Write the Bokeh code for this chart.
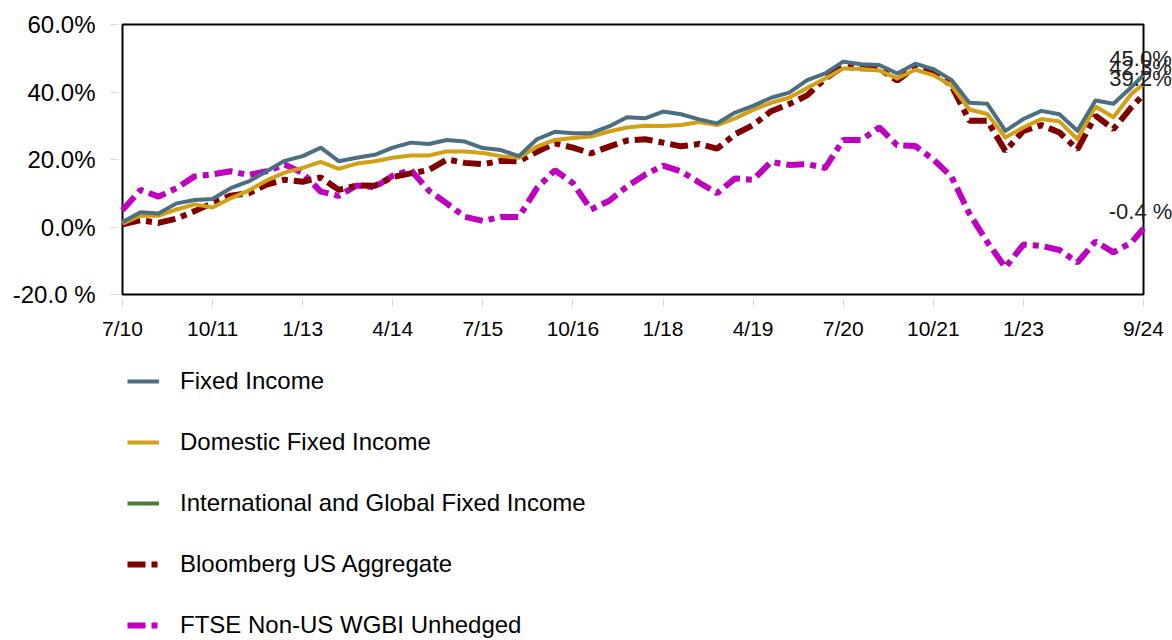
from bokeh.plotting import figure
from bokeh.layouts import column
from bokeh.models import Legend, LegendItem, Label, FixedTicker, ColumnDataSource, Range1d
from bokeh.embed import file_html
from bokeh.resources import INLINE

# months since 7/2010 (quarterly readings + final 9/2024)
months = list(range(0, 169, 3)) + [170]

fixed_income = [1.5, 4.4, 4.0, 7.0, 8.0, 8.3, 11.5, 13.5, 16.5, 19.6, 21.0, 23.5, 19.5, 20.5, 21.4,
                23.5, 25.0, 24.6, 25.8, 25.3, 23.4, 22.8, 21.0, 26.0, 28.2, 27.8, 27.8, 29.8, 32.5,
                32.2, 34.2, 33.4, 31.9, 30.7, 33.9, 35.9, 38.3, 39.8, 43.5, 45.5, 49.0, 48.2, 48.0,
                45.5, 48.4, 46.8, 43.6, 36.8, 36.5, 28.5, 32.0, 34.4, 33.4, 28.5, 37.5, 36.5, 41.5, 45.0]
domestic_fi = [1.0, 3.4, 3.3, 5.2, 6.7, 5.8, 8.5, 10.8, 13.8, 16.1, 17.5, 19.3, 17.2, 18.8, 19.5,
               20.5, 21.2, 21.2, 22.4, 22.4, 21.9, 21.0, 20.5, 23.8, 25.8, 26.4, 26.8, 28.3, 29.5,
               30.0, 29.9, 30.2, 31.1, 30.2, 32.2, 34.7, 36.8, 38.3, 41.2, 44.0, 47.0, 46.8, 46.4,
               44.0, 46.6, 45.0, 42.0, 34.8, 33.5, 26.5, 29.5, 32.0, 31.3, 26.0, 35.7, 32.5, 39.5, 42.3]
# no values are drawn in the chart for this series
intl_global_fi = [float("nan")] * len(months)
bbg_us_agg = [0.8, 2.0, 1.2, 2.5, 4.7, 7.1, 9.3, 10.0, 12.6, 14.0, 13.4, 14.7, 11.0, 12.3, 12.2,
              14.8, 15.9, 16.9, 20.0, 19.0, 18.6, 19.6, 19.5, 22.3, 24.8, 23.5, 21.8, 23.8, 25.6,
              26.0, 25.0, 23.9, 24.6, 23.2, 27.5, 30.2, 34.3, 36.4, 39.0, 44.0, 47.5, 47.0, 46.9,
              43.4, 47.4, 46.0, 42.0, 31.5, 31.5, 22.5, 28.5, 30.2, 28.0, 23.0, 33.0, 29.0, 35.5, 39.2]
ftse_wgbi = [5.0, 11.0, 9.0, 11.5, 15.0, 15.6, 16.5, 15.4, 16.5, 18.5, 16.0, 10.5, 9.2, 12.3, 11.8,
             15.2, 16.9, 10.8, 7.0, 3.0, 1.8, 3.0, 3.0, 11.5, 16.8, 13.0, 5.2, 7.7, 12.0,
             15.5, 18.2, 16.5, 13.2, 10.0, 14.4, 14.0, 19.3, 18.4, 18.6, 17.5, 25.8, 25.8, 29.5,
             24.2, 24.0, 20.0, 15.0, 4.0, -4.5, -12.0, -5.2, -5.6, -6.8, -10.5, -4.3, -7.5, -4.6, -0.4]

series_names = ["Fixed Income", "Domestic Fixed Income", "International and Global Fixed Income",
                "Bloomberg US Aggregate", "FTSE Non-US WGBI Unhedged"]

x_tick_months = [0, 15, 30, 45, 60, 75, 90, 105, 120, 135, 150, 170]
x_tick_labels = ["7/10", "10/11", "1/13", "4/14", "7/15", "10/16", "1/18", "4/19", "7/20", "10/21", "1/23", "9/24"]
y_ticks = [-20, 0, 20, 40, 60]
y_tick_labels = ["-20.0 %", "0.0%", "20.0%", "40.0%", "60.0%"]

FONT = "Liberation Sans"
C_FI = "#4B6E83"
C_DOM = "#D2A014"
C_INT = "#4A7F3A"
C_AGG = "#800000"
C_WGBI = "#C000C0"

# layout geometry (pixels)
BOX_W, BOX_H, PAD = 1021, 270, 4
RIGHT_ROOM = 29
TOP, LEFT, AXIS_ROOM = 20, 118, 44
CHART_H = TOP + BOX_H + 2 * PAD + AXIS_ROOM
LEGEND_H = 640 - CHART_H
x0, x1 = x_tick_months[0], x_tick_months[-1]
y0, y1 = y_ticks[0], y_ticks[-1]
xpp = (x1 - x0) / BOX_W
ypp = (y1 - y0) / BOX_H

p = figure(frame_width=BOX_W + PAD + RIGHT_ROOM, frame_height=BOX_H + 2 * PAD,
           output_backend="svg", toolbar_location=None,
           x_range=Range1d(x0 - PAD * xpp, x1 + RIGHT_ROOM * xpp),
           y_range=Range1d(y0 - PAD * ypp, y1 + PAD * ypp),
           min_border_left=LEFT, min_border_right=0, min_border_top=TOP,
           min_border_bottom=AXIS_ROOM)
p.xgrid.visible = False
p.ygrid.visible = False
p.outline_line_color = None

for ax in (p.xaxis[0], p.yaxis[0]):
    ax.axis_line_color = None
    ax.major_tick_line_color = "#d9d9d9"
    ax.major_tick_in = 0
    ax.minor_tick_line_color = None
    ax.major_label_text_font = FONT
    ax.major_label_text_color = "#000000"

p.xaxis.ticker = FixedTicker(ticks=x_tick_months)
p.xaxis.major_label_overrides = {m: l for m, l in zip(x_tick_months, x_tick_labels)}
p.xaxis.major_tick_out = 8
p.xaxis.major_label_standoff = 10
p.xaxis.major_label_text_font_size = "21px"

p.yaxis.ticker = FixedTicker(ticks=y_ticks)
p.yaxis.major_label_overrides = {t: l for t, l in zip(y_ticks, y_tick_labels)}
p.yaxis.major_tick_out = 8
p.yaxis.major_label_standoff = 15
p.yaxis.major_label_text_font_size = "24px"

# black frame around the data area
p.quad(left=[x0], right=[x1], bottom=[y0], top=[y1], fill_alpha=0,
       line_color="black", line_width=2)

src = ColumnDataSource(dict(m=months, fi=fixed_income, dom=domestic_fi, intl=intl_global_fi,
                            agg=bbg_us_agg, wgbi=ftse_wgbi))

styles = [
    ("fi", dict(line_color=C_FI, line_width=4, line_join="round")),
    ("dom", dict(line_color=C_DOM, line_width=4, line_join="round")),
    ("intl", dict(line_color=C_INT, line_width=4)),
    ("agg", dict(line_color=C_AGG, line_width=6, line_dash="18 6 6 6")),
    ("wgbi", dict(line_color=C_WGBI, line_width=6, line_dash="18 6 6 6")),
]

# draw the dashed benchmark lines below the solid composite lines
for col, st in reversed(styles):
    p.line("m", col, source=src, **st)

def fmt(v):
    return f"{v:.1f}%" if v >= 0 else f"{v:.1f} %"

for vals in (fixed_income, domestic_fi, bbg_us_agg, ftse_wgbi):
    p.add_layout(Label(x=months[-1], y=vals[-1], text=fmt(vals[-1]), text_align="center",
                       text_baseline="bottom", x_offset=-3, y_offset=4, text_font=FONT,
                       text_font_size="22px", text_color="#222222"))

# legend panel below the chart
lg = figure(width=BOX_W + PAD + RIGHT_ROOM + LEFT, height=LEGEND_H, output_backend="svg",
            toolbar_location=None, x_axis_location=None, y_axis_location=None,
            x_range=Range1d(0, 1), y_range=Range1d(0, 1),
            min_border_left=0, min_border_right=0, min_border_top=0, min_border_bottom=0)
lg.outline_line_color = None
lg.xgrid.visible = False
lg.ygrid.visible = False
items = []
for name, (col, st) in zip(series_names, styles):
    r = lg.line("m", col, source=src, visible=False, **st)
    items.append(LegendItem(label=name, renderers=[r]))

legend = Legend(items=items, orientation="vertical", location=(9, 0),
                border_line_color=None, background_fill_alpha=0,
                inactive_fill_alpha=0,
                label_text_font=FONT, label_text_font_size="24px", label_text_color="#000000",
                glyph_width=32, glyph_height=30, label_height=30, label_standoff=21,
                spacing=31, padding=0, margin=0)
lg.add_layout(legend, "center")

open("out.html", "w").write(file_html(column(p, lg, spacing=0), INLINE))
